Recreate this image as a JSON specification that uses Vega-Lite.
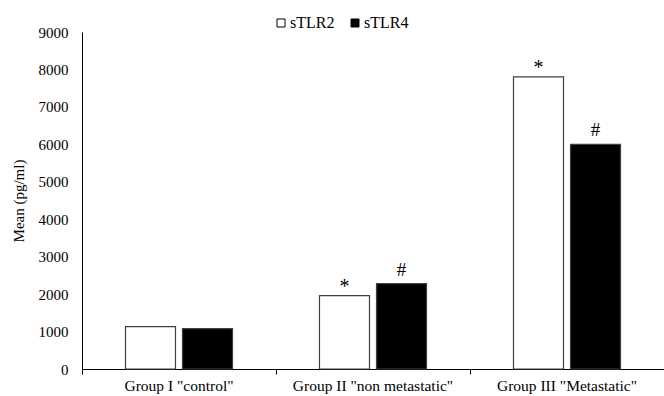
{
  "$schema": "https://vega.github.io/schema/vega-lite/v6.json",
  "autosize": "none",
  "width": 582,
  "height": 337,
  "padding": {"left": 82, "top": 32, "right": 0, "bottom": 27},
  "background": "white",
  "config": {
    "font": "Liberation Serif",
    "view": {"stroke": null}
  },
  "data": {
    "values": [
      {"group": "Group I \"control\"", "series": "sTLR2", "value": 1130, "sig": ""},
      {"group": "Group I \"control\"", "series": "sTLR4", "value": 1080, "sig": ""},
      {"group": "Group II \"non metastatic\"", "series": "sTLR2", "value": 1960, "sig": "*"},
      {"group": "Group II \"non metastatic\"", "series": "sTLR4", "value": 2280, "sig": "#"},
      {"group": "Group III \"Metastatic\"", "series": "sTLR2", "value": 7800, "sig": "*"},
      {"group": "Group III \"Metastatic\"", "series": "sTLR4", "value": 6000, "sig": "#"}
    ]
  },
  "encoding": {
    "x": {
      "field": "group", "type": "nominal", "sort": null,
      "scale": {"paddingInner": 0, "paddingOuter": 0},
      "axis": {
        "title": null, "labelAngle": 0, "labelFontSize": 15.5, "labelColor": "#000",
        "domainColor": "#000", "tickColor": "#000", "bandPosition": 0, "tickSize": 5,
        "labelPadding": 4
      }
    },
    "xOffset": {
      "field": "series", "type": "nominal",
      "scale": {"paddingInner": 0.123, "paddingOuter": 0.763}
    },
    "y": {
      "field": "value", "type": "quantitative",
      "scale": {"domain": [0, 9000]},
      "axis": {
        "title": "Mean (pg/ml)", "titleFontSize": 15, "titleFontWeight": "normal", "titleColor": "#000",
        "titlePadding": 12,
        "values": [0,1000,2000,3000,4000,5000,6000,7000,8000,9000],
        "format": "d", "labelOverlap": false,
        "grid": false, "ticks": false, "labelFontSize": 15, "labelColor": "#000",
        "labelPadding": 14, "domainColor": "#000"
      }
    }
  },
  "layer": [
    {
      "mark": {"type": "bar", "stroke": "#404040", "strokeWidth": 1.2},
      "encoding": {
        "fill": {
          "field": "series", "type": "nominal",
          "scale": {"domain": ["sTLR2", "sTLR4"], "range": ["#ffffff", "#000000"]},
          "legend": {
            "title": null, "orient": "none", "direction": "horizontal",
            "legendX": 191, "legendY": -17, "symbolType": "square", "symbolSize": 64,
            "symbolStrokeColor": "#000", "symbolStrokeWidth": 1,
            "labelFontSize": 16, "labelColor": "#000", "columnPadding": 12, "labelOffset": 1
          }
        }
      }
    },
    {
      "transform": [{"filter": "datum.sig === '*'"}],
      "mark": {"type": "text", "fontSize": 20, "dy": -3, "baseline": "alphabetic", "color": "#000"},
      "encoding": {"text": {"field": "sig"}}
    },
    {
      "transform": [{"filter": "datum.sig === '#'"}],
      "mark": {"type": "text", "fontSize": 19, "dy": -8, "baseline": "alphabetic", "color": "#000"},
      "encoding": {"text": {"field": "sig"}}
    }
  ]
}
